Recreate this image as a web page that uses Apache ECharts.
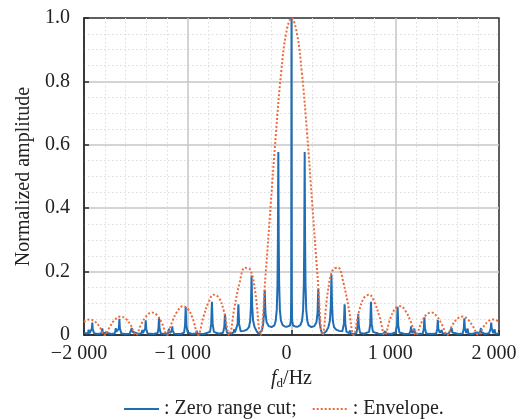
<!DOCTYPE html>
<html>
<head>
<meta charset="utf-8">
<script src="https://cdn.jsdelivr.net/npm/echarts@6/dist/echarts.min.js"></script>
<style>
  html, body { margin: 0; padding: 0; background: #fff; }
  #main { width: 532px; height: 419px; }
</style>
</head>
<body>
<div id="main"></div>
<script>
// x-axis ticks
var xTicks = [-2000, -1000, 0, 1000, 2000];
var yTicks = [0, 0.2, 0.4, 0.6, 0.8, 1.0];

// zero range cut as [f (Hz), amplitude]
var zeroCutLeft = [
  [-2000, 0.006], [-1985, 0.004], [-1962, 0.005], [-1955, 0.017], [-1949, 0.005],
  [-1930, 0.006], [-1924, 0.02], [-1920, 0.039], [-1916, 0.02], [-1905, 0.006],
  [-1870, 0.003], [-1835, 0.005], [-1828, 0.012], [-1824, 0.021], [-1820, 0.012],
  [-1812, 0.004], [-1790, 0.008], [-1775, 0.003], [-1740, 0.003], [-1705, 0.005],
  [-1698, 0.012], [-1694, 0.022], [-1690, 0.01], [-1672, 0.006], [-1664, 0.02],
  [-1659, 0.051], [-1654, 0.02], [-1640, 0.005], [-1600, 0.003], [-1560, 0.004],
  [-1548, 0.01], [-1540, 0.022], [-1533, 0.01], [-1520, 0.004], [-1490, 0.006],
  [-1470, 0.003], [-1445, 0.006], [-1438, 0.016], [-1432, 0.006], [-1418, 0.007],
  [-1410, 0.02], [-1405, 0.046], [-1400, 0.02], [-1388, 0.005], [-1330, 0.003],
  [-1290, 0.006], [-1282, 0.022], [-1277, 0.055], [-1272, 0.022], [-1260, 0.005],
  [-1215, 0.003], [-1190, 0.006], [-1181, 0.02], [-1172, 0.006], [-1160, 0.008],
  [-1153, 0.013], [-1149, 0.027], [-1145, 0.013], [-1130, 0.004], [-1070, 0.003],
  [-1035, 0.008], [-1026, 0.03], [-1020, 0.088], [-1014, 0.03], [-1000, 0.008],
  [-960, 0.003], [-920, 0.005], [-913, 0.013], [-906, 0.005], [-880, 0.003],
  [-840, 0.004], [-785, 0.01], [-774, 0.035], [-767, 0.105], [-760, 0.035],
  [-748, 0.01], [-700, 0.004], [-660, 0.007], [-648, 0.025], [-641, 0.066],
  [-634, 0.025], [-620, 0.006], [-580, 0.004], [-558, 0.008], [-551, 0.018],
  [-545, 0.008], [-530, 0.01], [-519, 0.035], [-512, 0.097], [-505, 0.035],
  [-490, 0.012]
];
var zeroCutCentre = [
  [-460, 0.013], [-430, 0.017], [-410, 0.025], [-398, 0.045], [-391, 0.09],
  [-385, 0.188], [-379, 0.09], [-370, 0.045], [-355, 0.024], [-335, 0.012],
  [-318, 0.003], [-300, 0.002], [-285, 0.014], [-273, 0.035], [-265, 0.07],
  [-258, 0.142], [-251, 0.07], [-240, 0.04], [-220, 0.028], [-192, 0.025],
  [-165, 0.03], [-152, 0.045], [-142, 0.08], [-135, 0.16], [-131, 0.3],
  [-127, 0.577], [-123, 0.3], [-119, 0.16], [-112, 0.08], [-102, 0.045],
  [-85, 0.031], [-60, 0.026], [-35, 0.027], [-15, 0.03], [-6, 0.045],
  [-3, 0.12], [0, 1.0], [3, 0.12], [6, 0.045], [15, 0.03],
  [35, 0.027], [60, 0.026], [85, 0.031], [102, 0.045], [112, 0.08],
  [119, 0.16], [123, 0.3], [127, 0.577], [131, 0.3], [135, 0.16],
  [142, 0.08], [152, 0.045], [165, 0.03], [192, 0.025], [220, 0.028],
  [240, 0.04], [251, 0.07], [258, 0.145], [265, 0.07], [273, 0.035],
  [285, 0.014], [300, 0.002], [318, 0.003], [335, 0.012], [355, 0.024],
  [370, 0.045], [379, 0.09], [385, 0.19], [391, 0.09], [398, 0.045],
  [410, 0.025], [430, 0.017], [460, 0.013], [490, 0.012]
];
var zeroCutRight = [
  [505, 0.035], [512, 0.097], [519, 0.035], [530, 0.01], [536, 0.016],
  [542, 0.008], [556, 0.006], [563, 0.014], [570, 0.005], [600, 0.003],
  [625, 0.006], [636, 0.025], [643, 0.067], [650, 0.025], [662, 0.006],
  [700, 0.004], [748, 0.01], [759, 0.035], [766, 0.105], [773, 0.035],
  [785, 0.01], [840, 0.004], [880, 0.003], [898, 0.005], [905, 0.012],
  [912, 0.005], [960, 0.003], [1003, 0.008], [1017, 0.03], [1023, 0.089],
  [1029, 0.03], [1040, 0.008], [1090, 0.003], [1135, 0.004], [1148, 0.013],
  [1152, 0.027], [1156, 0.013], [1165, 0.006], [1178, 0.008], [1184, 0.02],
  [1190, 0.006], [1220, 0.003], [1266, 0.005], [1276, 0.022], [1281, 0.056],
  [1286, 0.022], [1298, 0.005], [1350, 0.003], [1395, 0.005], [1405, 0.02],
  [1410, 0.047], [1415, 0.02], [1428, 0.007], [1442, 0.006], [1448, 0.015],
  [1454, 0.006], [1480, 0.003], [1515, 0.005], [1528, 0.012], [1534, 0.008],
  [1544, 0.022], [1550, 0.008], [1565, 0.004], [1610, 0.003], [1650, 0.005],
  [1661, 0.021], [1666, 0.053], [1671, 0.021], [1684, 0.006], [1692, 0.01],
  [1698, 0.02], [1704, 0.005], [1740, 0.003], [1790, 0.008], [1810, 0.004],
  [1820, 0.012], [1826, 0.022], [1832, 0.008], [1870, 0.003], [1905, 0.006],
  [1920, 0.02], [1925, 0.039], [1930, 0.02], [1945, 0.006], [1952, 0.01],
  [1958, 0.018], [1964, 0.005], [1985, 0.004], [2000, 0.006]
];

// envelope, read every 50 Hz from -2000 to 2000
var envStart = -2000, envStep = 50;
var envelopeAmp = [
  0.041, 0.049, 0.044, 0.026, 0, 0.027, 0.049, 0.058, 0.052, 0.031,
  0, 0.033, 0.059, 0.071, 0.064, 0.038, 0, 0.042, 0.075, 0.091,
  0.083, 0.05, 0, 0.056, 0.103, 0.127, 0.118, 0.073, 0, 0.087,
  0.165, 0.212, 0.207, 0.136, 0, 0.191, 0.413, 0.637, 0.827, 0.955,
  1.0,
  0.955, 0.827, 0.637, 0.413, 0.191, 0, 0.136, 0.207, 0.212, 0.165,
  0.087, 0, 0.073, 0.118, 0.127, 0.103, 0.056, 0, 0.05, 0.083,
  0.091, 0.075, 0.042, 0, 0.038, 0.064, 0.071, 0.059, 0.033, 0,
  0.031, 0.052, 0.058, 0.049, 0.027, 0, 0.026, 0.044, 0.049, 0.041
];

var zeroCut = zeroCutLeft.concat(zeroCutCentre, zeroCutRight);
var envelope = envelopeAmp.map(function (a, i) { return [envStart + i * envStep, a]; });

var serif = "'Liberation Serif', 'Times New Roman', serif";
var textColor = "#222";
var frame = "#2b2b2b";

var chartDom = document.getElementById("main");
var myChart = echarts.init(chartDom);
var option = {
  animation: false,
  grid: {
    left: 84,
    right: 33,
    top: 18,
    bottom: 84,
    show: true,
    borderColor: frame,
    borderWidth: 1.5,
  },
  legend: {
    left: 118,
    top: 394,
    itemWidth: 35,
    itemHeight: 12,
    itemGap: 15,
    itemStyle: { opacity: 0 },
    textStyle: { fontFamily: serif, fontSize: 20, color: textColor },
    data: [": Zero range cut;", ": Envelope."],
  },
  xAxis: {
    type: "value",
    min: xTicks[0],
    max: xTicks[xTicks.length - 1],
    interval: 1000,
    name: "{i|f}{s|d}{n|/Hz}",
    nameLocation: "middle",
    nameGap: 27,
    nameTextStyle: {
      rich: {
        i: { fontFamily: serif, fontSize: 20, fontStyle: "italic", color: textColor },
        s: { fontFamily: serif, fontSize: 13, color: textColor, padding: [10, 0, 0, 0] },
        n: { fontFamily: serif, fontSize: 20, color: textColor },
      },
    },
    axisLine: { show: true, onZero: false, lineStyle: { color: frame, width: 1.5 } },
    axisTick: { show: true, inside: true, length: 5, lineStyle: { color: frame, width: 1.5 } },
    axisLabel: {
      fontFamily: serif,
      fontSize: 20,
      color: textColor,
      margin: 9,
      padding: [0, 10, 0, 0],
      formatter: function (v) {
        if (v === 0) return "0";
        var s = String(Math.abs(v));
        s = s.slice(0, s.length - 3) + " " + s.slice(-3);
        return (v < 0 ? "\u2212" : "") + s;
      },
    },
    splitLine: { show: true, showMinLine: false, showMaxLine: false, lineStyle: { color: "#c6c6c6", width: 1.5 } },
    minorTick: { show: false, splitNumber: 5 },
    minorSplitLine: { show: true, lineStyle: { color: "#dcdcdc", width: 1, type: [1.5, 2.5] } },
  },
  yAxis: {
    type: "value",
    min: yTicks[0],
    max: yTicks[yTicks.length - 1],
    interval: 0.2,
    name: "Normalized amplitude",
    nameLocation: "middle",
    nameGap: 50,
    nameTextStyle: { fontFamily: serif, fontSize: 20, color: textColor },
    axisLine: { show: true, onZero: false, lineStyle: { color: frame, width: 1.5 } },
    axisTick: { show: true, inside: true, length: 5, lineStyle: { color: frame, width: 1.5 } },
    axisLabel: {
      fontFamily: serif,
      fontSize: 20,
      color: textColor,
      margin: 14,
      formatter: function (v) { return v === 0 ? "0" : v.toFixed(1); },
    },
    splitLine: { show: true, showMinLine: false, showMaxLine: false, lineStyle: { color: "#c6c6c6", width: 1.5 } },
    minorTick: { show: false, splitNumber: 4 },
    minorSplitLine: { show: true, lineStyle: { color: "#dcdcdc", width: 1, type: [1.5, 2.5] } },
  },
  series: [
    {
      name: ": Zero range cut;",
      type: "line",
      data: zeroCut,
      symbol: "none",
      lineStyle: { color: "#1f6db4", width: 2 },
      itemStyle: { color: "#1f6db4" },
      z: 2,
    },
    {
      name: ": Envelope.",
      type: "line",
      data: envelope,
      smooth: 0.4,
      symbol: "none",
      lineStyle: { color: "#ee6a3c", width: 2, type: [2, 2] },
      itemStyle: { color: "#ee6a3c" },
      z: 3,
    },
  ],
};
option && myChart.setOption(option);
</script>
</body>
</html>
